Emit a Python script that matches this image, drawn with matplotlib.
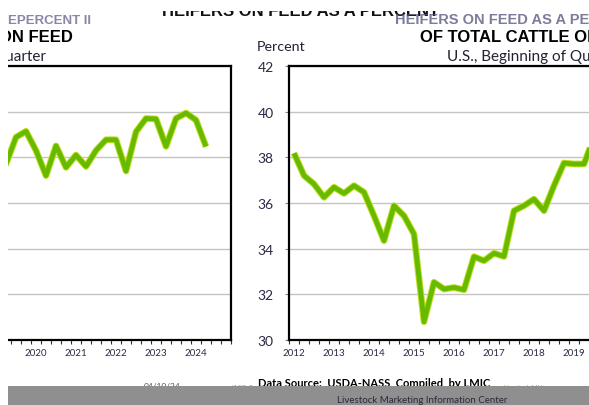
import numpy as np
import matplotlib
matplotlib.use('Agg')
import matplotlib.pyplot as plt
from matplotlib.patches import Rectangle

# quarterly data, 2012 Q1 .. 2024 Q2 (percent of total cattle on feed)
heifer_pct = [38.18, 37.20, 36.83, 36.25,
              36.69, 36.42, 36.76, 36.47,
              35.44, 34.35, 35.88, 35.44,
              34.64, 30.80, 32.53, 32.23,
              32.30, 32.20, 33.65, 33.47,
              33.80, 33.66, 35.66, 35.88,
              36.17, 35.66, 36.76, 37.75,
              37.71, 37.71, 38.88, 39.14,
              38.30, 37.20, 38.50, 37.56,
              38.10, 37.60, 38.30, 38.77,
              38.77, 37.40, 39.12, 39.70,
              39.68, 38.48, 39.70, 39.94,
              39.63, 38.47]
year_labels = [str(y) for y in range(2012, 2025)]
y_ticks = [30, 32, 34, 36, 38, 40, 42]

W, H = 589, 406
fig = plt.figure(figsize=(W / 100, H / 100), dpi=100)

def px(x, y):
    # pixel from top-left -> figure fraction
    return x / W, 1 - y / H

quarters = np.arange(len(heifer_pct))
year_pos = np.arange(len(year_labels)) * 4

line_col = '#66bb00'
edge_col = '#c4dc20'
tick_col = '#2a2a45'


def setup(ax, xlim):
    ax.plot(quarters, heifer_pct, color=edge_col, lw=4.8, solid_capstyle='butt', zorder=3)
    ax.plot(quarters, heifer_pct, color=line_col, lw=3.4, solid_capstyle='butt', zorder=4)
    ax.set_yticks(y_ticks)
    ax.set_axisbelow(True)
    ax.yaxis.grid(True, color='#c4c4c4', lw=1.0)
    ax.set_xticks(year_pos)
    ax.set_xticklabels(year_labels, fontsize=7, color=tick_col, family='Lato')
    ax.set_xticks(np.arange(-0.5, 52, 1), minor=True)
    ax.tick_params(axis='x', which='major', length=0, pad=6)
    ax.tick_params(axis='x', which='minor', length=3, width=0.8, direction='out', color='#333333')
    ax.set_xlim(*xlim)
    ax.set_ylim(30, 42)
    for s in ax.spines.values():
        s.set_color('black')
        s.set_linewidth(1.6)


# left panel = right end of the series
x0, y0 = px(8, 341)
x1, y1 = px(231, 67)
ax1 = fig.add_axes([x0, y0, x1 - x0, y1 - y0])
setup(ax1, (29.2, 51.5))
ax1.spines['left'].set_visible(False)
ax1.tick_params(axis='y', length=0, labelleft=False)

# right panel = start of the series
x0, y0 = px(289, 341)
x1, y1 = px(589, 67)
ax2 = fig.add_axes([x0, y0, x1 - x0, y1 - y0])
setup(ax2, (-0.5, 29.5))
ax2.spines['right'].set_visible(False)
ax2.tick_params(axis='y', length=3, width=0.8, color='#888888', pad=8,
                labelsize=10, labelcolor=tick_col)
for lab in ax2.get_yticklabels():
    lab.set_family('Lato')

# titles
fig.text(*px(300, 16.5), 'HEIFERS ON FEED AS A PERCENT', ha='center', va='baseline',
         fontsize=12, fontweight='bold', family='Liberation Sans', color='#111111')
# top of that line is lost in the original
cx, cy = px(140, 11.5)
fig.add_artist(Rectangle((cx, cy), 310 / W, 1 - cy, transform=fig.transFigure,
                         facecolor='white', edgecolor='none', zorder=8))

fig.text(*px(8, 24), 'EPERCENT II', ha='left', va='baseline', fontsize=9.5, fontweight='bold',
         family='Liberation Sans', color='#6a6a90', alpha=0.8)
fig.text(*px(395, 24), 'HEIFERS ON FEED AS A PE', ha='left', va='baseline', fontsize=10.5,
         fontweight='bold', family='Liberation Sans', color='#50507a', alpha=0.75, zorder=9)

fig.text(*px(73, 37), 'ON FEED', ha='right', va='center', fontsize=12, fontweight='bold',
         family='Liberation Sans', color='black')
fig.text(*px(420, 37), 'OF TOTAL CATTLE ON FEED', ha='left', va='center', fontsize=12,
         fontweight='bold', family='Liberation Sans', color='black')
fig.text(*px(46, 57), 'Quarter', ha='right', va='center', fontsize=11, family='Lato',
         color='#222233')
fig.text(*px(447, 57), 'U.S., Beginning of Quarter', ha='left', va='center', fontsize=11,
         family='Lato', color='#222233')
fig.text(*px(257, 47), 'Percent', ha='left', va='center', fontsize=10.3, family='Lato',
         color='#222233')

# footer
fig.text(*px(162, 389), '04/10/24', ha='center', va='baseline', fontsize=6, family='Lato',
         color='#555555')
fig.text(*px(243, 389), 'LMIC-Q', ha='center', va='baseline', fontsize=4.5, family='Lato',
         color='#888899')
fig.text(*px(525, 389), 'Livestock Mktg', ha='center', va='baseline', fontsize=4.5,
         family='Lato', color='#9999aa')
fig.text(*px(258, 387.5), 'Data Source:  USDA-NASS, Compiled  by LMIC', ha='left', va='baseline',
         fontsize=8, fontweight='bold', family='Lato', color='black')

bx, by = px(8, 406)
band = Rectangle((bx, by), 1 - bx, 19 / H, transform=fig.transFigure,
                 facecolor='#8f8f8f', edgecolor='none', zorder=5)
fig.add_artist(band)
fig.text(*px(422, 401), 'Livestock Marketing Information Center', ha='center', va='center',
         fontsize=7, family='Lato', color='#2a2a3a', zorder=6)

# blank strip at the far left
strip = Rectangle((0, 0), 7.5 / W, 1, transform=fig.transFigure, facecolor='white',
                  edgecolor='none', zorder=10)
fig.add_artist(strip)

fig.savefig('out.png', dpi=100)
